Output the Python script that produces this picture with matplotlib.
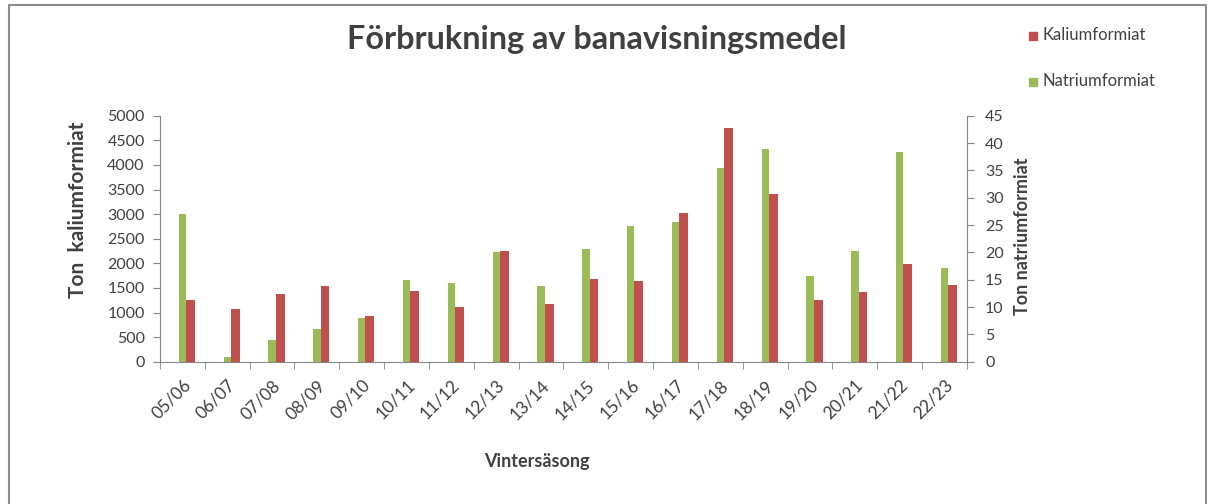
import matplotlib
matplotlib.use("Agg")
import matplotlib.pyplot as plt
from matplotlib.patches import Rectangle
from matplotlib.lines import Line2D
import numpy as np

plt.rcParams['font.family'] = ['Lato', 'DejaVu Sans']

seasons = ["05/06", "06/07", "07/08", "08/09", "09/10", "10/11", "11/12", "12/13", "13/14",
           "14/15", "15/16", "16/17", "17/18", "18/19", "19/20", "20/21", "21/22", "22/23"]
kalium = [1250, 1075, 1380, 1530, 930, 1440, 1115, 2245, 1165, 1675, 1640, 3015, 4755, 3415,
          1250, 1410, 1980, 1565]
natrium = [27.0, 0.9, 3.9, 6.0, 8.05, 14.9, 14.45, 20.05, 13.9, 20.55, 24.9, 25.5, 35.5, 39.0,
           15.6, 20.2, 38.4, 17.1]

red = "#C0504D"
green = "#9BBB59"
axis_col = "#868686"
text_col = "#404040"

W, H = 1214, 504
fig = plt.figure(figsize=(W / 100, H / 100), dpi=100)
ax = fig.add_axes([160 / W, 1 - 361.7 / H, 807 / W, 246 / H])
ax2 = ax.twinx()

x = np.arange(len(seasons))
ax2.bar(x - 0.083, natrium, width=0.163, align='edge', color=green, zorder=2)
ax.bar(x + 0.08, kalium, width=0.2, align='edge', color=red, zorder=3)
ax.set_zorder(ax2.get_zorder() + 1)
ax.patch.set_visible(False)

ax.set_xlim(-0.5, len(seasons) - 0.5)
ax.set_ylim(0, 5000)
ax2.set_ylim(0, 45)
ax.set_yticks(np.arange(0, 5001, 500))
ax2.set_yticks(np.arange(0, 46, 5))

ax.set_xticks(x)
ax.set_xticklabels(seasons, rotation=45, ha='right', rotation_mode='anchor',
                   fontsize=12.5, color=text_col)
ax.set_xticks(np.arange(-0.5, len(seasons), 1), minor=True)
ax.tick_params(axis='x', which='major', length=0, pad=11)
ax.tick_params(axis='x', which='minor', length=5, color=axis_col, direction='out')
ax.tick_params(axis='y', labelsize=11.5, labelcolor=text_col, color=axis_col, length=5, pad=6)
ax2.tick_params(axis='y', labelsize=11.5, labelcolor=text_col, color=axis_col, length=5, pad=8)

for a in (ax, ax2):
    a.spines['top'].set_visible(False)
    for s in ('left', 'right', 'bottom'):
        a.spines[s].set_color(axis_col)
ax.spines['right'].set_visible(False)
ax2.spines['left'].set_visible(False)
ax2.spines['bottom'].set_visible(False)

fig.text(78 / W, 1 - 210 / H, "Ton  kaliumformiat", fontsize=15, fontweight='bold',
         color=text_col, rotation=90, ha='center', va='center')
fig.text(1023 / W, 1 - 236 / H, "Ton natriumformiat", fontsize=13, fontweight='bold',
         color=text_col, rotation=90, ha='center', va='center')
fig.text(537 / W, 1 - 462 / H, "Vintersäsong", fontsize=13, fontweight='bold',
         color=text_col, ha='center', va='center')

fig.text(597 / W, 1 - 40 / H, "Förbrukning av banavisningsmedel", fontsize=23.3,
         fontweight='bold', color=text_col, ha='center', va='center')

# legend
fig.patches.append(Rectangle((1029 / W, 1 - 40 / H), 8 / W, 8 / H,
                             transform=fig.transFigure, color=red))
fig.patches.append(Rectangle((1029 / W, 1 - 86 / H), 8 / W, 8 / H,
                             transform=fig.transFigure, color=green))
fig.text(1042 / W, 1 - 35 / H, "Kaliumformiat", fontsize=12, color=text_col, va='center')
fig.text(1042 / W, 1 - 81 / H, "Natriumformiat", fontsize=12, color=text_col, va='center')

# chart border (left, top, right)
bx0, bx1, by0 = 8.5 / W, 1205.5 / W, 1 - 4.5 / H
fig.lines.append(Line2D([bx0, bx0, bx1, bx1], [0, by0, by0, 0], transform=fig.transFigure,
                        color="#8C8C8C", lw=1.5))

fig.savefig("out.png", dpi=100)
